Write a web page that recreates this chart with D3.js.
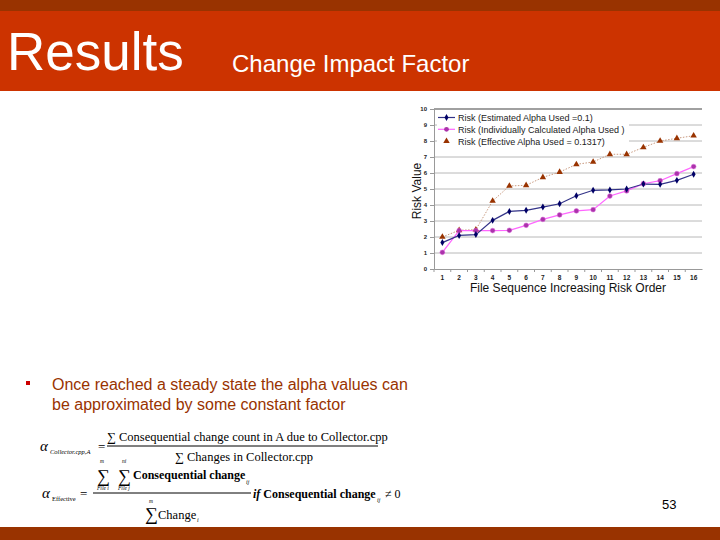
<!DOCTYPE html>
<html>
<head>
<meta charset="utf-8">
<script src="https://cdn.jsdelivr.net/npm/d3@7"></script>
<style>
  body { margin: 0; background: #fff; }
  svg { display: block; font-family: "Liberation Sans", Arial, sans-serif; }
</style>
</head>
<body>
<svg id="slide" width="720" height="540"></svg>
<script>
// file sequence (x categories)
const files = d3.range(1, 17).map(String);
const yTicks = [0, 1, 2, 3, 4, 5, 6, 7, 8, 9, 10];

// series
const riskEstimated = [1.65, 2.1, 2.15, 3.04, 3.6, 3.67, 3.87, 4.08, 4.58, 4.92, 4.94, 5.0, 5.31, 5.29, 5.54, 5.92];
const riskIndividual = [1.04, 2.4, 2.4, 2.4, 2.42, 2.73, 3.1, 3.38, 3.63, 3.71, 4.56, 4.88, 5.33, 5.52, 5.96, 6.4];
const riskEffective = [2.0, 2.42, 2.46, 4.25, 5.19, 5.23, 5.73, 6.06, 6.54, 6.69, 7.17, 7.17, 7.6, 8.0, 8.17, 8.33];

const seriesNames = [
  'Risk (Estimated Alpha Used =0.1)',
  'Risk (Individually Calculated Alpha Used )',
  'Risk (Effective Alpha Used = 0.1317)'
];

const svg = d3.select('#slide');

// ---- slide frame ----
svg.append('rect').attr('x', 0).attr('y', 0).attr('width', 720).attr('height', 11).attr('fill', '#993300');
svg.append('rect').attr('x', 0).attr('y', 11).attr('width', 720).attr('height', 80).attr('fill', '#cc3300');
svg.append('rect').attr('x', 0).attr('y', 527).attr('width', 720).attr('height', 13).attr('fill', '#993300');

svg.append('text').attr('x', 7).attr('y', 70)
  .attr('fill', '#fff').style('font-size', '53px').text('Results');
svg.append('text').attr('x', 232).attr('y', 72)
  .attr('fill', '#fff').style('font-size', '24px').text('Change Impact Factor');

// bullet
svg.append('rect').attr('x', 26).attr('y', 381).attr('width', 4).attr('height', 4).attr('fill', '#cc0000');
svg.append('text').attr('x', 52).attr('y', 390).attr('fill', '#993300').style('font-size', '16px')
  .text('Once reached a steady state the alpha values can');
svg.append('text').attr('x', 52).attr('y', 410).attr('fill', '#993300').style('font-size', '16px')
  .text('be approximated by some constant factor');

svg.append('text').attr('x', 662).attr('y', 509).style('font-size', '13px').attr('fill', '#000').text('53');

// ---- formulas ----
const fm = svg.append('g').style('font-family', '"Liberation Serif", "Times New Roman", serif').attr('fill', '#000');
fm.append('text').attr('x', 40).attr('y', 451).style('font-size', '15px').style('font-style', 'italic').text('α');
fm.append('text').attr('x', 50).attr('y', 454).style('font-size', '6.5px').style('font-style', 'italic').text('Collector.cpp,A');
fm.append('text').attr('x', 98).attr('y', 451).style('font-size', '13px').text('=');
fm.append('text').attr('x', 107).attr('y', 441).style('font-size', '12.5px').text('∑ Consequential change count  in A due to Collector.cpp');
fm.append('line').attr('x1', 107).attr('x2', 378).attr('y1', 446).attr('y2', 446).attr('stroke', '#000');
fm.append('text').attr('x', 175).attr('y', 461).style('font-size', '12.5px').text('∑ Changes in Collector.cpp');

fm.append('text').attr('x', 42).attr('y', 498).style('font-size', '15px').style('font-style', 'italic').text('α');
fm.append('text').attr('x', 52).attr('y', 501).style('font-size', '6.5px').text('Effective');
fm.append('text').attr('x', 80).attr('y', 498).style('font-size', '13px').text('=');
fm.append('text').attr('x', 97).attr('y', 482).style('font-size', '18px').text('∑');
fm.append('text').attr('x', 100).attr('y', 463).style('font-size', '5.5px').style('font-style', 'italic').text('m');
fm.append('text').attr('x', 97).attr('y', 490).style('font-size', '5.5px').style('font-style', 'italic').text('File i');
fm.append('text').attr('x', 118).attr('y', 482).style('font-size', '18px').text('∑');
fm.append('text').attr('x', 122).attr('y', 463).style('font-size', '5.5px').style('font-style', 'italic').text('ni');
fm.append('text').attr('x', 118).attr('y', 490).style('font-size', '5.5px').style('font-style', 'italic').text('File j');
fm.append('text').attr('x', 133).attr('y', 479).style('font-size', '12px').style('font-weight', 'bold').text('Consequential change');
fm.append('text').attr('x', 246).attr('y', 484).style('font-size', '6px').style('font-style', 'italic').text('ij');
fm.append('line').attr('x1', 93).attr('x2', 251).attr('y1', 493).attr('y2', 493).attr('stroke', '#000');
fm.append('text').attr('x', 253).attr('y', 498).style('font-size', '12px').style('font-weight', 'bold')
  .html('<tspan font-style="italic">if</tspan> Consequential change');
fm.append('text').attr('x', 377).attr('y', 502).style('font-size', '6px').style('font-style', 'italic').text('ij');
fm.append('text').attr('x', 385).attr('y', 498).style('font-size', '12px').text('≠ 0');
fm.append('text').attr('x', 145).attr('y', 520).style('font-size', '18px').text('∑');
fm.append('text').attr('x', 149).attr('y', 503).style('font-size', '5.5px').style('font-style', 'italic').text('m');
fm.append('text').attr('x', 158).attr('y', 519).style('font-size', '12.5px').text('Change');
fm.append('text').attr('x', 197).attr('y', 522).style('font-size', '6px').style('font-style', 'italic').text('i');

// ---- chart ----
const plot = { left: 434, right: 702, top: 109, bottom: 269 };

const x = d3.scaleBand().domain(files).range([plot.left, plot.right]);
const y = d3.scaleLinear().domain([0, 10]).range([plot.bottom, plot.top]);
const cx = d => x(d) + x.bandwidth() / 2;

const chart = svg.append('g');

// gridlines
chart.append('g').selectAll('line')
  .data(yTicks.filter(t => t > 0))
  .join('line')
  .attr('x1', plot.left).attr('x2', plot.right)
  .attr('y1', d => y(d)).attr('y2', d => y(d))
  .attr('stroke', d => (d === 10 ? '#a0a0a0' : '#b8b8b8'))
  .attr('stroke-width', d => (d === 10 ? 2 : 1));

// y axis
const yAxis = chart.append('g')
  .attr('transform', `translate(${plot.left},0)`)
  .call(d3.axisLeft(y).tickValues(yTicks).tickSize(4).tickPadding(3));
yAxis.select('.domain').attr('stroke', '#999');
yAxis.selectAll('.tick line').attr('stroke', '#999');
yAxis.selectAll('.tick text').style('font-size', '6px').style('font-weight', 'bold').attr('fill', '#222');

// x axis (ticks between categories)
const xAxis = chart.append('g')
  .attr('transform', `translate(0,${plot.bottom})`)
  .call(d3.axisBottom(x).tickSize(0).tickPadding(6));
xAxis.select('.domain').attr('stroke', '#999');
xAxis.selectAll('.tick text').style('font-size', '6.5px').style('font-weight', 'bold').attr('fill', '#222');
xAxis.append('g').selectAll('line')
  .data(files)
  .join('line')
  .attr('x1', d => x(d)).attr('x2', d => x(d))
  .attr('y1', 0).attr('y2', 3)
  .attr('stroke', '#999');

chart.append('text')
  .attr('transform', `translate(421,${(plot.top + plot.bottom) / 2 + 2}) rotate(-90)`)
  .attr('text-anchor', 'middle').style('font-size', '12px').attr('fill', '#111').text('Risk Value');
chart.append('text')
  .attr('x', 568).attr('y', 292)
  .attr('text-anchor', 'middle').style('font-size', '12px').attr('fill', '#111')
  .text('File Sequence Increasing Risk Order');

const line = d3.line().x((d, i) => cx(files[i])).y(d => y(d));

// effective alpha: dotted line + triangles
chart.append('path').datum(riskEffective).attr('d', line)
  .attr('fill', 'none').attr('stroke', '#c99a80').attr('stroke-width', 1).attr('stroke-dasharray', '1.5,1.5');
// individual: pink line + purple circles
chart.append('path').datum(riskIndividual).attr('d', line)
  .attr('fill', 'none').attr('stroke', '#ff66ff').attr('stroke-width', 1.2);
// estimated: navy line + diamonds
chart.append('path').datum(riskEstimated).attr('d', line)
  .attr('fill', 'none').attr('stroke', '#333388').attr('stroke-width', 1.2);

const tri = d3.symbol().type(d3.symbolTriangle).size(18);
const dia = d3.symbol().type(d3.symbolDiamond).size(14);

chart.append('g').selectAll('path')
  .data(riskEffective)
  .join('path')
  .attr('d', tri)
  .attr('transform', (d, i) => `translate(${cx(files[i])},${y(d)})`)
  .attr('fill', '#993300');

chart.append('g').selectAll('circle')
  .data(riskIndividual)
  .join('circle')
  .attr('cx', (d, i) => cx(files[i])).attr('cy', d => y(d)).attr('r', 2.4)
  .attr('fill', '#aa33aa').attr('stroke', '#dd66dd').attr('stroke-width', 0.5);

chart.append('g').selectAll('path')
  .data(riskEstimated)
  .join('path')
  .attr('d', dia)
  .attr('transform', (d, i) => `translate(${cx(files[i])},${y(d)})`)
  .attr('fill', '#000066');

// legend
const legend = chart.append('g');
legend.append('rect').attr('x', 437).attr('y', 110).attr('width', 192).attr('height', 37).attr('fill', '#fff');
const rows = legend.selectAll('g')
  .data(seriesNames)
  .join('g')
  .attr('transform', (d, i) => `translate(438,${117.5 + i * 11.8})`);
rows.filter((d, i) => i < 2).append('line')
  .attr('x1', 0).attr('x2', 17).attr('y1', 0).attr('y2', 0)
  .attr('stroke', (d, i) => (i === 0 ? '#333388' : '#ff66ff')).attr('stroke-width', 1.2);
rows.each(function (d, i) {
  const g = d3.select(this);
  if (i === 0) g.append('path').attr('d', dia).attr('transform', 'translate(8.5,0)').attr('fill', '#000066');
  if (i === 1) g.append('circle').attr('cx', 8.5).attr('cy', 0).attr('r', 2.4).attr('fill', '#aa33aa');
  if (i === 2) g.append('path').attr('d', tri).attr('transform', 'translate(8.5,0)').attr('fill', '#993300');
});
rows.append('text').attr('x', 20).attr('y', 3.5)
  .style('font-size', '9px').attr('fill', '#222').text(d => d);
</script>
</body>
</html>
